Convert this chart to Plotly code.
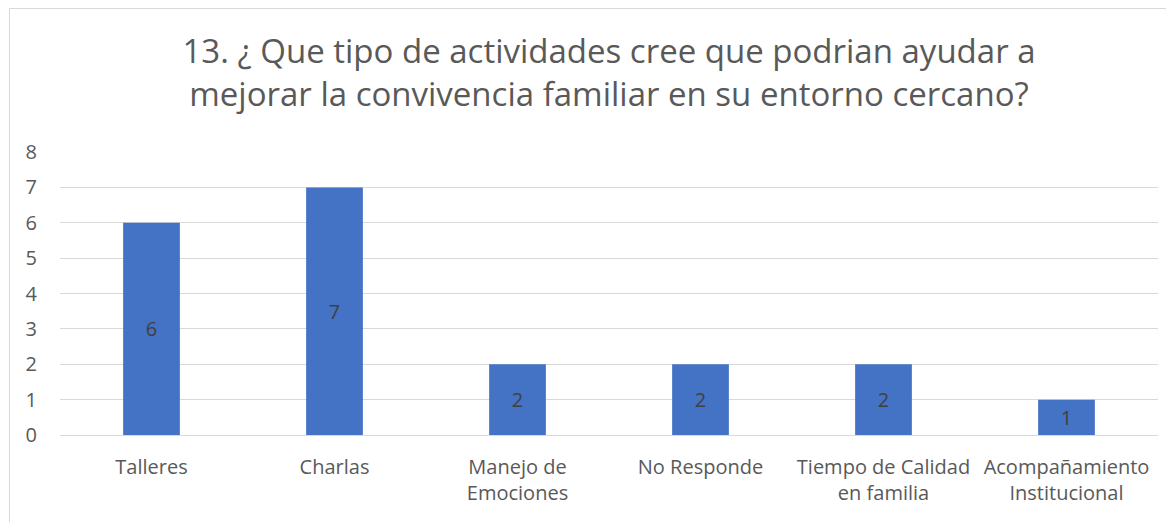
import plotly.graph_objects as go

categories = ["Talleres", "Charlas", "Manejo de<br>Emociones", "No Responde",
              "Tiempo de Calidad<br>en familia", "Acompañamiento<br>Institucional"]
values = [6, 7, 2, 2, 2, 1]
y_ticks = [0, 1, 2, 3, 4, 5, 6, 7, 8]
title_text = ("13. ¿ Que tipo de actividades cree que podrian ayudar a<br>"
              "mejorar la convivencia familiar en su entorno cercano?")

FONT = "Open Sans, Lato, sans-serif"

fig = go.Figure(go.Bar(
    x=categories, y=values,
    marker=dict(color="#4472C4", line=dict(width=0)),
    width=0.31,
    text=values, textposition="inside", insidetextanchor="middle",
    textfont=dict(color="#404040", size=20, family=FONT),
    cliponaxis=False,
))

# page is rendered with an 8px body margin; compensate in figure coordinates
OFF = 8
W, H = 1174, 522
L, T = 60 - OFF, 152 - OFF
pw, ph = 1098, 283
R = W - L - pw
B = H - T - ph

def px_to_paper_x(px):
    return (px - OFF - L) / pw

def px_to_paper_y(py):
    return (T + ph - (py - OFF)) / ph

fig.update_layout(
    width=W, height=H,
    margin=dict(l=L, r=R, t=T, b=B),
    paper_bgcolor="white", plot_bgcolor="white",
    title=dict(text=title_text, x=0.5, xref="paper", xanchor="center",
               y=1 - (63 - OFF) / H, yref="container", yanchor="middle",
               font=dict(family=FONT, size=33, color="#595959")),
    font=dict(family=FONT, color="#595959", size=20),
    showlegend=False,
    xaxis=dict(showgrid=False, showline=False, ticks="",
               tickfont=dict(size=20, color="#595959"),
               ticklabelstandoff=18),
    yaxis=dict(range=[0, 8], tickvals=y_ticks, showgrid=True, gridcolor="#D9D9D9",
               gridwidth=1, zeroline=True, zerolinecolor="#D9D9D9", zerolinewidth=1,
               showline=False, ticks="", tickfont=dict(size=20, color="#595959"),
               ticklabelstandoff=22),
    shapes=[
        dict(type="line", xref="paper", yref="paper",
             x0=px_to_paper_x(9.5), x1=px_to_paper_x(9.5),
             y0=px_to_paper_y(8.5), y1=px_to_paper_y(540),
             line=dict(color="#D9D9D9", width=1)),
        dict(type="line", xref="paper", yref="paper",
             x0=px_to_paper_x(9.5), x1=px_to_paper_x(1190),
             y0=px_to_paper_y(8.5), y1=px_to_paper_y(8.5),
             line=dict(color="#D9D9D9", width=1)),
    ],
)

fig.write_html("out.html")
